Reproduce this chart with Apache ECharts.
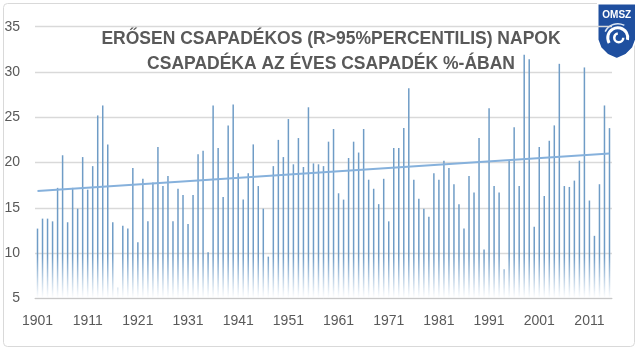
<!DOCTYPE html>
<html>
<head>
<meta charset="utf-8">
<script src="https://cdn.jsdelivr.net/npm/echarts@6/dist/echarts.min.js"></script>
<style>
    html, body { margin: 0; padding: 0; background: #fff; }
    #chart { width: 640px; height: 352px; }
</style>
</head>
<body>
<div id="chart"></div>
<script>
// első év, évek száma
const firstYear = 1901;
const years = Array.from({ length: 115 }, (_, i) => String(firstYear + i));

// R>95% napok csapadéka az éves csapadék %-ában (leolvasva)
const values = [
    12.7, 13.8, 13.8, 13.5, 17.2, 20.8, 13.4, 17.2, 14.9, 20.6,
    17.0, 19.6, 25.2, 26.3, 22.0, 13.4, 6.2, 13.0, 12.7, 19.4,
    11.2, 18.2, 13.5, 17.8, 21.7, 17.4, 18.5, 13.5, 17.1, 16.4,
    13.2, 16.4, 20.9, 21.3, 10.1, 26.3, 21.6, 16.2, 24.1, 26.4,
    18.8, 15.9, 18.8, 22.0, 17.4, 14.9, 9.6, 19.6, 22.5, 20.6,
    24.8, 19.8, 22.7, 19.5, 26.1, 19.9, 19.8, 19.6, 22.3, 23.7,
    16.6, 15.9, 20.5, 22.3, 21.1, 23.7, 18.1, 17.1, 15.4, 18.2,
    13.5, 21.6, 21.6, 23.8, 28.2, 18.1, 16.0, 14.9, 14.0, 18.8,
    18.1, 20.2, 19.4, 17.6, 15.4, 12.7, 18.5, 16.7, 22.7, 10.4,
    26.0, 17.4, 16.7, 8.2, 20.2, 23.9, 17.4, 31.9, 31.4, 12.9,
    21.7, 16.3, 22.4, 24.1, 30.9, 17.4, 17.3, 18.0, 20.2, 30.5,
    15.8, 11.9, 17.6, 26.3, 23.8,
];

/** lineáris trend két végpontja */
const trendStart = 16.85;
const trendEnd = 21.0;

const titleLines = [
    "ERŐSEN CSAPADÉKOS (R>95%PERCENTILIS) NAPOK",
    "CSAPADÉKA AZ ÉVES CSAPADÉK %-ÁBAN",
];

const chart = echarts.init(document.getElementById("chart"));

const barColor = {
    type: "linear",
    x: 0, y: 256, x2: 0, y2: 298,
    global: true,
    colorStops: [
        { offset: 0, color: "#6f9cc6" },
        { offset: 1, color: "rgba(111, 156, 198, 0)" },
    ],
};

const option = {
    animation: false,
    title: {
        text: titleLines.join("\n"),
        left: 326,
        top: 22,
        textAlign: "center",
        textStyle: {
            fontFamily: "Liberation Sans",
            fontSize: 17.5,
            fontWeight: "bold",
            color: "#595959",
            lineHeight: 25,
        },
    },
    grid: {
        left: 35,
        right: 28,
        top: 26.7,
        bottom: 53.7,
        containLabel: false,
    },
    xAxis: {
        type: "category",
        data: years,
        boundaryGap: true,
        axisTick: { show: false },
        axisLine: { lineStyle: { color: "#c8c8c8", width: 1 } },
        axisLabel: {
            interval: 9,
            color: "#595959",
            fontFamily: "Liberation Sans",
            fontSize: 14,
            margin: 16,
        },
    },
    yAxis: {
        type: "value",
        min: 5,
        max: 35,
        interval: 5,
        axisLine: { show: false },
        axisTick: { show: false },
        axisLabel: {
            color: "#595959",
            fontFamily: "Liberation Sans",
            fontSize: 14,
            margin: 15,
        },
        splitLine: { lineStyle: { color: "#d9d9d9", width: 1.3 } },
    },
    series: [
        {
            type: "bar",
            data: values,
            barWidth: 1.5,
            itemStyle: { color: barColor },
            markLine: {
                silent: true,
                symbol: "none",
                label: { show: false },
                lineStyle: { color: "#86b1dc", width: 2, type: "solid" },
                data: [
                    [
                        { coord: [0, trendStart] },
                        { coord: [years.length - 1, trendEnd] },
                    ],
                ],
            },
        },
    ],
    graphic: [
        {
            type: "rect",
            shape: { x: 3.5, y: 3.5, width: 631, height: 343, r: 4 },
            style: { fill: "none", stroke: "#d9d9d9", lineWidth: 1 },
            z: -1,
        },
        {
            type: "group",
            left: 597,
            top: 3,
            children: [
                {
                    type: "polygon",
                    shape: {
                        points: [[0, 0], [38, 0], [38, 36], [35, 44], [28, 51], [19, 55], [10, 51], [3, 44], [0, 36]],
                    },
                    style: { fill: "#1f4f9f", stroke: "#ffffff", lineWidth: 1.5 },
                },
                {
                    type: "text",
                    style: {
                        text: "OMSZ", x: 19, y: 6, align: "center",
                        fill: "#fff", font: "bold 10px 'Liberation Sans'",
                    },
                },
                {
                    type: "arc",
                    shape: { cx: 20, cy: 34, r: 10, startAngle: 2.6, endAngle: 6.5 },
                    style: { stroke: "#fff", fill: "none", lineWidth: 3 },
                },
                {
                    type: "arc",
                    shape: { cx: 21, cy: 34, r: 4.5, startAngle: 0, endAngle: 4.5 },
                    style: { stroke: "#fff", fill: "none", lineWidth: 2.5 },
                },
                {
                    type: "arc",
                    shape: { cx: 20, cy: 34, r: 14, startAngle: 3.6, endAngle: 5.2 },
                    style: { stroke: "#dbe6f5", fill: "none", lineWidth: 1.5 },
                },
            ],
        },
    ],
};

chart.setOption(option);
</script>
</body>
</html>
